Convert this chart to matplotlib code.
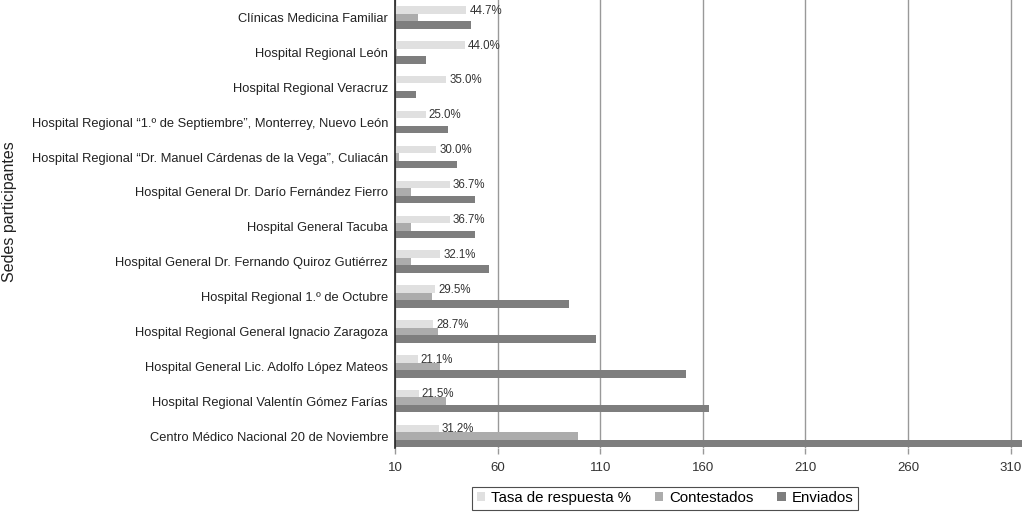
import matplotlib
matplotlib.use("Agg")
import matplotlib.pyplot as plt
import numpy as np

plt.rcParams['font.family'] = ['Liberation Sans', 'DejaVu Sans']

categories = [
    "Clínicas Medicina Familiar",
    "Hospital Regional León",
    "Hospital Regional Veracruz",
    "Hospital Regional “1.º de Septiembre”, Monterrey, Nuevo León",
    "Hospital Regional “Dr. Manuel Cárdenas de la Vega”, Culiacán",
    "Hospital General Dr. Darío Fernández Fierro",
    "Hospital General Tacuba",
    "Hospital General Dr. Fernando Quiroz Gutiérrez",
    "Hospital Regional 1.º de Octubre",
    "Hospital Regional General Ignacio Zaragoza",
    "Hospital General Lic. Adolfo López Mateos",
    "Hospital Regional Valentín Gómez Farías",
    "Centro Médico Nacional 20 de Noviembre",
]
tasa = [44.7, 44.0, 35.0, 25.0, 30.0, 36.7, 36.7, 32.1, 29.5, 28.7, 21.1, 21.5, 31.2]
contestados = [21, 11, 7, 9, 12, 18, 18, 18, 28, 31, 32, 35, 99]
enviados = [47, 25, 20, 36, 40, 49, 49, 56, 95, 108, 152, 163, 317]
xticks = [10, 60, 110, 160, 210, 260, 310]

fig = plt.figure(figsize=(10.24, 5.14), dpi=100)
ax = fig.add_axes([395/1024, 1-448/514, 627/1024, 448/514])

y = np.arange(len(categories))
h = 0.215
c_tasa, c_cont, c_env = "#e0e0e0", "#acacac", "#7e7e7e"
ax.barh(y - h, tasa, height=h, color=c_tasa, label="Tasa de respuesta %", zorder=3)
ax.barh(y, contestados, height=h, color=c_cont, label="Contestados", zorder=3)
ax.barh(y + h, enviados, height=h, color=c_env, label="Enviados", zorder=3)

for yi, t in zip(y, tasa):
    ax.text(t + 1.5, yi - h + 0.02, f"{t:.1f}%", va="center", ha="left", fontsize=8.3, color="#333333", zorder=4)

ax.set_xlim(10, 315.5)
ax.set_ylim(12.34, -0.5)
ax.set_xticks(xticks)
ax.set_xticklabels([str(v) for v in xticks], fontsize=9.5, color="#333333")
ax.set_yticks(y)
ax.set_yticklabels(categories, fontsize=9.25, color="#222222")
ax.tick_params(axis="y", length=0, pad=5)
ax.tick_params(axis="x", length=4, width=1, color="#999999", pad=6)
ax.xaxis.grid(True, color="#999999", linewidth=1, zorder=0)
for s in ["top", "right", "bottom"]:
    ax.spines[s].set_visible(False)
ax.spines["left"].set_color("#222222")
ax.spines["left"].set_linewidth(1.2)
ax.spines["left"].set_zorder(5)

fig.text(10/1024, 1-212/514, "Sedes participantes", rotation=90, va="center", ha="center", fontsize=11.5, color="#222222")

leg = fig.legend(loc="center", bbox_to_anchor=(665/1024, 1-498/514), ncol=3, frameon=True,
                 fontsize=10.8, handlelength=0.55, handleheight=0.55, handletextpad=0.4,
                 columnspacing=1.6, fancybox=False, borderpad=0.3)
leg.get_frame().set_edgecolor("#222222")
leg.get_frame().set_linewidth(0.8)

fig.savefig("out.png", dpi=100)
